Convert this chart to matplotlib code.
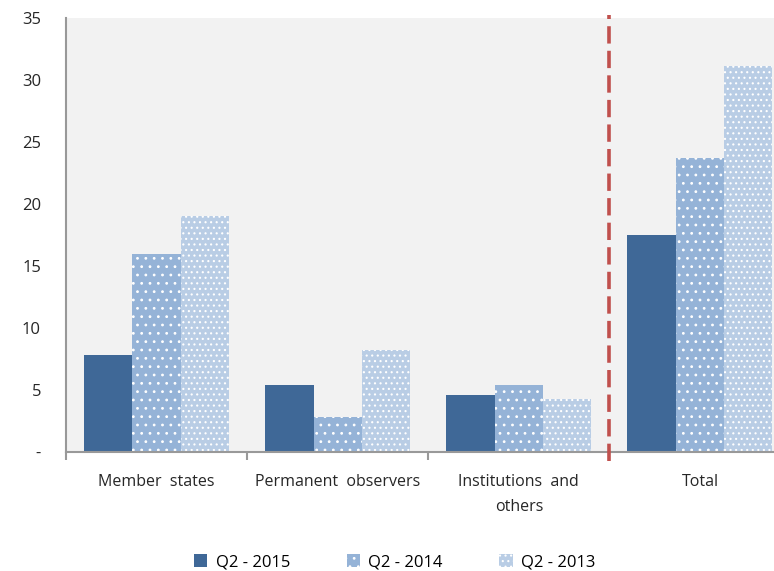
import matplotlib.pyplot as plt
import matplotlib.patches as mpatches
import numpy as np

# --- Data ---
categories = ['Member  states', 'Permanent  observers', 'Institutions  and\nothers', 'Total']
series = ['Q2 - 2015', 'Q2 - 2014', 'Q2 - 2013']
q2_2015 = [7.8, 5.4, 4.6, 17.5]
q2_2014 = [16.0, 2.8, 5.4, 23.7]
q2_2013 = [19.0, 8.2, 4.3, 31.1]
y_ticks = [0, 5, 10, 15, 20, 25, 30, 35]
y_labels = ['-', '5', '10', '15', '20', '25', '30', '35']

colors = ['#3f6897', '#95b3d7', '#b9cde5']
hatches = [None, '..', '...']

plt.rcParams['font.family'] = ['Open Sans', 'DejaVu Sans']
plt.rcParams['hatch.color'] = 'white'
plt.rcParams['hatch.linewidth'] = 0.8

fig = plt.figure(figsize=(7.74, 5.71), dpi=100)
ax = fig.add_axes([66 / 774, 119 / 571, 724.5 / 774, 434 / 571])
ax.set_facecolor('#f2f2f2')

x = np.arange(len(categories))
w = 0.8 / 3
for i, vals in enumerate([q2_2015, q2_2014, q2_2013]):
    ax.bar(x + (i - 1) * w, vals, width=w, color=colors[i], hatch=hatches[i],
           edgecolor='white' if hatches[i] else colors[i], linewidth=0, zorder=2)

ax.set_xlim(-0.5, len(categories) - 0.5)
ax.set_ylim(0, 35)

# separator before Total
ax.axvline(2.5, ymin=-0.02, ymax=1.008, color='#c0504d', linewidth=2.6,
           dashes=(4.8, 2.0), clip_on=False, zorder=3)

# spines
for s in ['top', 'right']:
    ax.spines[s].set_visible(False)
for s in ['left', 'bottom']:
    ax.spines[s].set_color('#999999')
    ax.spines[s].set_linewidth(1.5)

ax.set_yticks(y_ticks)
ax.set_yticklabels(y_labels)
ax.tick_params(axis='y', length=0, pad=18, labelsize=12, labelcolor='#262626')

ax.set_xticks(x)
ax.set_xticklabels(categories, linespacing=1.75)
ax.tick_params(axis='x', which='major', length=0, pad=16, labelsize=11.5, labelcolor='#262626')
ax.set_xticks(np.arange(-0.5, len(categories), 1), minor=True)
ax.tick_params(axis='x', which='minor', length=6, width=1.5, color='#999999', direction='out')

# legend
handles = [mpatches.Patch(facecolor=colors[i], hatch=hatches[i],
                          edgecolor='white' if hatches[i] else colors[i], linewidth=0,
                          label=series[i]) for i in range(3)]
fig.legend(handles=handles, loc='center', bbox_to_anchor=(0.51, 0.015), ncol=3,
           frameon=False, fontsize=12, handlelength=0.8, handleheight=0.8,
           columnspacing=3.4, handletextpad=0.5)

plt.savefig('out.png', dpi=100)
plt.close()
